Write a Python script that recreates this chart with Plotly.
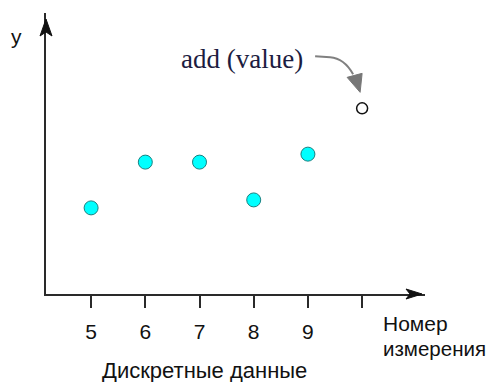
import plotly.graph_objects as go

# data
x_vals = [5, 6, 7, 8, 9]
y_vals = [2.05, 3.14, 3.14, 2.24, 3.33]
new_x = [10]
new_y = [4.42]
tick_vals = [5, 6, 7, 8, 9, 10]
tick_text = ["5", "6", "7", "8", "9", ""]

AX = "#2a2a2a"
fig = go.Figure()
fig.add_trace(go.Scatter(x=x_vals, y=y_vals, mode="markers",
                         marker=dict(size=14, color="#00ffff", line=dict(color="#1a8080", width=1)),
                         showlegend=False, hoverinfo="skip"))
fig.add_trace(go.Scatter(x=new_x, y=new_y, mode="markers",
                         marker=dict(size=11, color="white", line=dict(color="#111", width=1.5)),
                         showlegend=False, hoverinfo="skip"))

fig.update_layout(
    width=494, height=382,
    margin=dict(l=46, r=69, t=13, b=88),
    paper_bgcolor="white", plot_bgcolor="white",
    xaxis=dict(range=[4.168, 11.16], showgrid=False, zeroline=False,
               showline=True, linecolor=AX, linewidth=2,
               ticks="outside", ticklen=12, tickwidth=2, tickcolor=AX,
               tickvals=tick_vals, ticktext=tick_text, ticklabelstandoff=6,
               tickfont=dict(family="Liberation Sans", size=21, color="#111")),
    yaxis=dict(range=[0, 6.69], showgrid=False, zeroline=False,
               showline=True, linecolor=AX, linewidth=2, showticklabels=False, ticks=""),
    font=dict(family="Liberation Sans", color="#111"),
)

shapes = []
# x-axis arrowhead
shapes.append(dict(type="path", xref="paper", yref="paper", xsizemode="pixel", ysizemode="pixel",
                   xanchor=1, yanchor=0, path="M -3,0 L -19,5 L -15,0 L -19,-5 Z",
                   fillcolor="#111", line=dict(color="#111", width=1)))
# y-axis arrowhead
shapes.append(dict(type="path", xref="paper", yref="paper", xsizemode="pixel", ysizemode="pixel",
                   xanchor=0, yanchor=1, path="M 0,-6 L -6,-23 L 0,-19 L 6,-23 Z",
                   fillcolor="#111", line=dict(color="#111", width=1)))
# curved pointer to new value
shapes.append(dict(type="path", xref="x", yref="y", xsizemode="pixel", ysizemode="pixel",
                   xanchor=new_x[0], yanchor=new_y[0], path="M -47,52 L -32,51 Q -18,50 -9,34",
                   line=dict(color="#808080", width=2)))
shapes.append(dict(type="path", xref="x", yref="y", xsizemode="pixel", ysizemode="pixel",
                   xanchor=new_x[0], yanchor=new_y[0], path="M -15,31 L 0,35 L -2,16 Z",
                   fillcolor="#777", line=dict(color="#777", width=1)))
fig.update_layout(shapes=shapes)

anns = [
    dict(text="y", xref="paper", yref="paper", x=0, y=1, xshift=-30, yshift=-23,
         font=dict(size=21, family="Liberation Sans", color="#111")),
    dict(text="add (value)", xref="x", yref="y", x=new_x[0], y=new_y[0], xshift=-120, yshift=49,
         font=dict(size=27, family="Liberation Serif", color="#1c1c40")),
    dict(text="Номер", xref="paper", yref="paper", x=1, y=0, xshift=-44, yshift=-29, xanchor="left",
         font=dict(size=21, family="Liberation Sans", color="#111")),
    dict(text="измерения", xref="paper", yref="paper", x=1, y=0, xshift=-44, yshift=-54, xanchor="left",
         font=dict(size=20.5, family="Liberation Sans", color="#111")),
    dict(text="Дискретные данные", xref="x", yref="paper", x=7, y=0, xshift=5, yshift=-76,
         font=dict(size=22, family="Liberation Sans", color="#111")),
]
for a in anns:
    a.setdefault("xanchor", "center")
    a["yanchor"] = "middle"
    a["showarrow"] = False
fig.update_layout(annotations=anns)

fig.write_html("out.html", config={"displayModeBar": False},
               post_script="document.body.style.margin='0';")
